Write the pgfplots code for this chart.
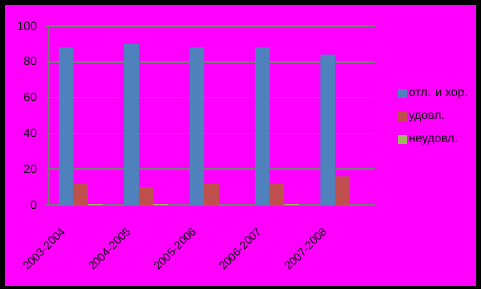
\documentclass[border=0pt]{standalone}
\usepackage{pgfplots}
\pgfplotsset{compat=1.18}
\usepackage{fontspec}
\setmainfont{Liberation Sans}
\definecolor{bgmag}{HTML}{FF00FF}
\definecolor{cblue}{HTML}{4F81BD}
\definecolor{cred}{HTML}{C0504D}
\definecolor{cgreen}{HTML}{9BBB59}
\definecolor{cgrid}{HTML}{787878}
\pgfplotsset{sqlegend/.style={legend image code/.code={\fill[##1] (0pt,-3.4pt) rectangle (6.75pt,3.4pt);}}}
\begin{document}
\begin{tikzpicture}
\fill[black] (0,0) rectangle (360.75pt,216.75pt);
\fill[bgmag] (3.75pt,2.25pt) rectangle (357pt,213pt);
\begin{axis}[
  at={(36pt,63pt)}, anchor=south west,
  scale only axis, width=245.25pt, height=134.25pt,
  ybar=0pt, bar width=10.95pt,
  xmin=-0.5, xmax=4.5, ymin=0, ymax=100,
  xtick={0,1,2,3,4},
  xticklabels={2003-2004,2004-2005,2005-2006,2006-2007,2007-2008},
  x tick style={draw=none},
  extra x ticks={-0.5,0.5,1.5,2.5,3.5,4.5},
  extra x tick labels={},
  extra x tick style={major grid style={draw=none}, major tick length=3.5pt, tick style={draw=cgrid, line width=1pt}},
  ytick={0,20,40,60,80,100},
  y tick style={draw=cgrid, line width=1pt},
  major tick length=1.5pt,
  tick align=outside, xtick pos=left, ytick pos=left,
  ymajorgrids, major grid style={draw=cgrid, line width=1.1pt},
  axis line style={draw=none},
  /pgf/number format/assume math mode=true,
  tick label style={font=\fontsize{9}{10}\selectfont, text=black},
  xticklabel style={font=\fontsize{8.5}{9}\selectfont, inner sep=0pt, anchor=east, xshift=-13pt, yshift=-17pt, rotate=45},
  yticklabel style={inner sep=0pt, anchor=east, xshift=-6.5pt},
  legend style={at={(rel axis cs:1.07,0.494)}, anchor=west, draw=none, fill=none,
    inner sep=0pt, outer sep=0pt, row sep=9pt,
    font=\fontsize{9}{10}\selectfont,
    nodes={inner sep=0pt, text height=6.5pt, text depth=2pt},
    /tikz/every odd column/.style={column sep=1.5pt}},
  legend cell align=left,
  sqlegend,
]
\draw[cgrid, line width=1pt] (rel axis cs:0,0) -- (rel axis cs:0,1);
\addplot[fill=cblue, draw=none, sqlegend] coordinates {(0,88) (1,90) (2,88) (3,88) (4,84)};
\addplot[fill=cred, draw=none, sqlegend] coordinates {(0,12) (1,10) (2,12) (3,12) (4,16)};
\addplot[fill=cgreen, draw=none, sqlegend] coordinates {(0,0.5) (1,0.5) (2,0) (3,0.5) (4,0)};
\legend{отл. и хор.,удовл.,неудовл.}
\end{axis}
\pgfresetboundingbox
\path[use as bounding box] (0,0) rectangle (360.75pt,216.75pt);
\end{tikzpicture}
\end{document}
